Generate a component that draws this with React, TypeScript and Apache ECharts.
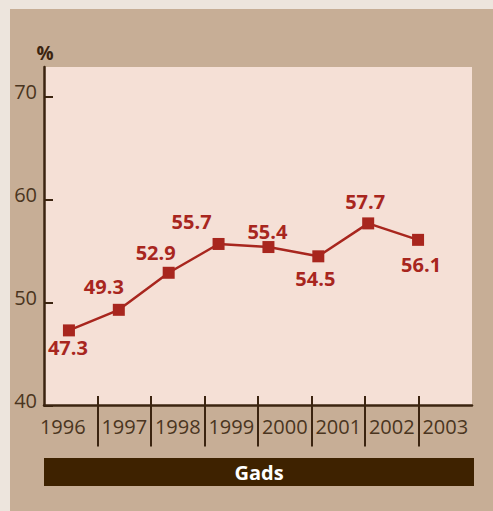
import React, { useEffect, useRef } from "react";
import * as echarts from "echarts";

const years = ["1996", "1997", "1998", "1999", "2000", "2001", "2002", "2003"];
const values = [47.3, 49.3, 52.9, 55.7, 55.4, 54.5, 57.7, 56.1];
const yTicks = [40, 50, 60, 70];
const boundaryTicks = [1, 2, 3, 4, 5, 6, 7];
const unitLabel = "%";
const xTitle = "Gads";

// label placement (style only)
const labelPlacement: { pos: "top" | "bottom"; dx: number; dy: number }[] = [
  { pos: "bottom", dx: -1, dy: -4 },
  { pos: "top", dx: -15, dy: -2 },
  { pos: "top", dx: -13, dy: 1 },
  { pos: "top", dx: -27, dy: -1 },
  { pos: "top", dx: -1, dy: 5 },
  { pos: "bottom", dx: -3, dy: 1 },
  { pos: "top", dx: -3, dy: -1 },
  { pos: "bottom", dx: 3, dy: 4 },
];

const DARK = "#3b2410";
const TEXT = "#4a3520";
const RED = "#a8261e";
const FONT = "'Open Sans', 'Noto Sans', sans-serif";
const Y_MIN = 40;
const Y_MAX = 72.9;

export default function App() {
  const ref = useRef<HTMLDivElement>(null);
  useEffect(() => {
    if (!ref.current) return;
    const chart = echarts.init(ref.current, undefined, { renderer: "svg" });
    chart.setOption({
      animation: false,
      backgroundColor: "transparent",
      textStyle: { fontFamily: FONT },
      grid: [
        {
          left: 44,
          right: 21,
          top: 67,
          bottom: 105.5,
          show: true,
          backgroundColor: "#f5e0d6",
          borderWidth: 0,
        },
        {
          left: 44,
          right: 50,
          top: 67,
          bottom: 105.5,
          show: false,
        },
      ],
      xAxis: [
        {
          type: "category",
          gridIndex: 0,
          data: years,
          boundaryGap: true,
          position: "bottom",
          axisLine: { show: true, lineStyle: { color: DARK, width: 2.5 } },
          axisTick: { show: false },
          axisLabel: {
            color: TEXT,
            fontSize: 20,
            margin: 11,
            fontFamily: FONT,
            interval: 0,
            formatter: (v: string, i: number) => (i === 0 ? "{first|" + v + "}" : v),
            rich: {
              first: { color: TEXT, fontSize: 20, fontFamily: FONT, padding: [0, 16, 0, 0] },
            },
          },
          splitLine: { show: false },
          z: 5,
        },
        {
          type: "value",
          gridIndex: 0,
          min: 0,
          max: 8,
          interval: 1,
          position: "bottom",
          axisLine: { show: false },
          axisLabel: { show: false },
          splitLine: { show: false },
          axisTick: {
            show: true,
            inside: false,
            length: 41,
            customValues: boundaryTicks,
            lineStyle: { color: DARK, width: 2 },
          },
        },
        {
          type: "value",
          gridIndex: 0,
          min: 0,
          max: 8,
          interval: 1,
          position: "bottom",
          axisLine: { show: false },
          axisLabel: { show: false },
          splitLine: { show: false },
          axisTick: {
            show: true,
            inside: true,
            length: 9.5,
            customValues: boundaryTicks,
            lineStyle: { color: DARK, width: 2 },
          },
        },
        {
          type: "category",
          gridIndex: 1,
          data: years,
          boundaryGap: true,
          show: false,
        },
      ],
      yAxis: [
        {
          type: "value",
          gridIndex: 0,
          min: Y_MIN,
          max: Y_MAX,
          interval: 10,
          name: unitLabel,
          nameLocation: "end",
          nameGap: 5,
          nameTextStyle: { color: DARK, fontSize: 19, fontWeight: "bold", fontFamily: FONT, align: "center", padding: [0, 0, 0, 2] },
          axisLine: { show: true, lineStyle: { color: DARK, width: 2.5 } },
          axisTick: { show: true, inside: true, length: 9, customValues: yTicks, lineStyle: { color: DARK, width: 2 } },
          axisLabel: {
            color: TEXT,
            fontSize: 20,
            margin: 7,
            fontFamily: FONT,
            customValues: yTicks,
            verticalAlign: "bottom",
            lineHeight: 10,
          },
          splitLine: { show: false },
        },
        {
          type: "value",
          gridIndex: 1,
          min: Y_MIN,
          max: Y_MAX,
          show: false,
          splitLine: { show: false },
        },
      ],
      series: [
        {
          type: "line",
          xAxisIndex: 3,
          yAxisIndex: 1,
          data: values.map((v, i) => ({
            value: v,
            label: {
              position: labelPlacement[i].pos,
              offset: [labelPlacement[i].dx, labelPlacement[i].dy],
            },
          })),
          symbol: "rect",
          symbolSize: 12,
          lineStyle: { color: RED, width: 2.5 },
          itemStyle: { color: RED },
          label: {
            show: true,
            color: RED,
            fontSize: 20,
            fontWeight: "bold",
            fontFamily: FONT,
            distance: 5,
            formatter: (p: any) => p.value.toFixed(1),
          },
          z: 10,
        },
      ],
      graphic: [
        {
          type: "rect",
          left: 44,
          top: 458,
          shape: { width: 430, height: 28 },
          style: { fill: "#3e2200" },
        },
        {
          type: "text",
          x: 44 + 215,
          y: 472,
          style: {
            text: xTitle,
            fill: "#ffffff",
            fontSize: 20,
            fontWeight: "bold",
            fontFamily: FONT,
            align: "center",
            verticalAlign: "middle",
          },
        },
      ],
    });
    return () => chart.dispose();
  }, []);

  return (
    <div style={{ position: "fixed", left: 0, top: 0, width: 493, height: 511, background: "#ede5dd" }}>
      <div style={{ position: "absolute", left: 10, top: 9, right: 0, bottom: 0, background: "#c7ae96" }} />
      <div ref={ref} style={{ position: "absolute", left: 0, top: 0, width: 493, height: 511 }} />
    </div>
  );
}
